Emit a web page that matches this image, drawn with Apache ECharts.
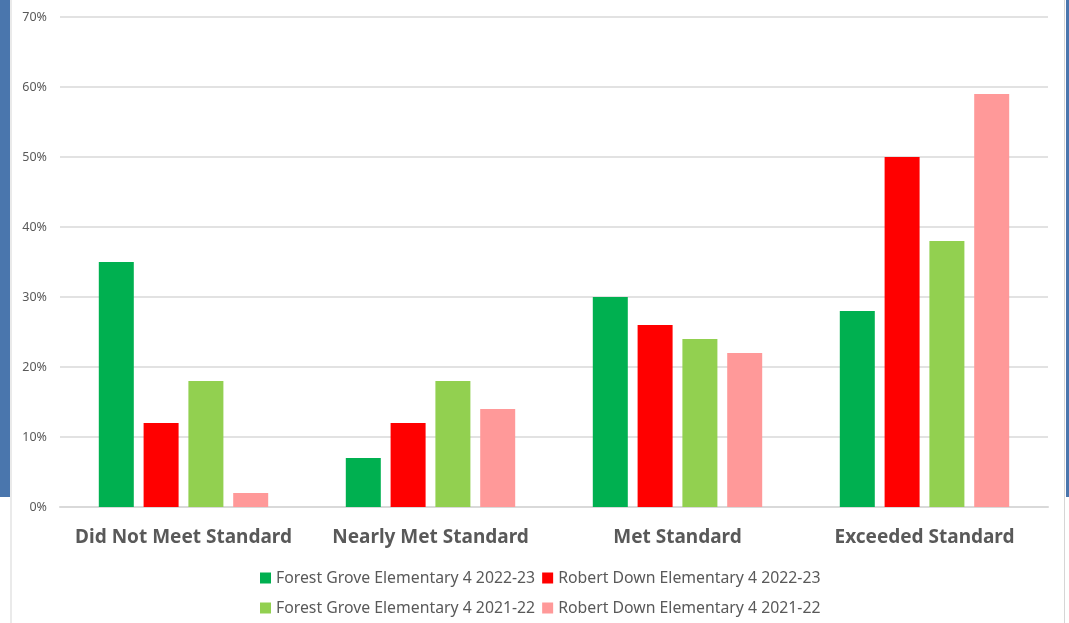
<!DOCTYPE html>
<html><head><meta charset="utf-8">
<script src="https://cdn.jsdelivr.net/npm/echarts@6/dist/echarts.min.js"></script>
<style>html,body{margin:0;padding:0;background:#fff}#c{width:1069px;height:623px}</style>
</head><body><div id="c"></div>
<script>
const categories = ['Did Not Meet Standard', 'Nearly Met Standard', 'Met Standard', 'Exceeded Standard'];
const seriesNames = ['Forest Grove Elementary 4 2022-23', 'Robert Down Elementary 4 2022-23', 'Forest Grove Elementary 4 2021-22', 'Robert Down Elementary 4 2021-22'];
const fg2223 = [35, 7, 30, 28];
const rd2223 = [12, 12, 26, 50];
const fg2122 = [18, 18, 24, 38];
const rd2122 = [2, 14, 22, 59];
const colors = ['#00b050', '#ff0000', '#92d050', '#ff9999'];
const values = [fg2223, rd2223, fg2122, rd2122];

const chart = echarts.init(document.getElementById('c'), null, {renderer: 'canvas'});
const font = 'Noto Sans';
const legendText = {color: '#595959', fontFamily: font, fontSize: 15.8};
chart.setOption({
  animation: false,
  backgroundColor: '#fff',
  graphic: [
    {type: 'rect', shape: {x: 0, y: 0, width: 10, height: 497}, style: {fill: '#4a76ad'}},
    {type: 'rect', shape: {x: 10.5, y: 0, width: 1, height: 623}, style: {fill: '#d6d6d6'}},
    {type: 'rect', shape: {x: 1066, y: 0, width: 3, height: 497}, style: {fill: '#4a76ad'}},
    {type: 'rect', shape: {x: 1064, y: 0, width: 1, height: 623}, style: {fill: '#d6d6d6'}}
  ],
  grid: {left: 60, right: 21, top: 17, bottom: 116, containLabel: false},
  xAxis: {
    type: 'category', data: categories,
    axisLine: {lineStyle: {color: '#d9d9d9', width: 2}},
    axisTick: {show: false},
    axisLabel: {interval: 0, color: '#595959', fontFamily: font, fontWeight: 'bold', fontSize: 19, margin: 21}
  },
  yAxis: {
    type: 'value', min: 0, max: 70, interval: 10,
    axisLabel: {formatter: '{value}%', color: '#595959', fontFamily: font, fontSize: 12.5, margin: 13},
    splitLine: {lineStyle: {color: '#d9d9d9', width: 1.5}},
    axisLine: {show: false}, axisTick: {show: false}
  },
  legend: [
    {data: [seriesNames[0], seriesNames[1]], top: 565, left: 255, itemWidth: 11, itemHeight: 11, itemGap: 7, icon: 'rect',
     textStyle: legendText},
    {data: [seriesNames[2], seriesNames[3]], top: 595, left: 255, itemWidth: 11, itemHeight: 11, itemGap: 7, icon: 'rect',
     textStyle: legendText}
  ],
  series: seriesNames.map((n, i) => ({
    name: n, type: 'bar', data: values[i], itemStyle: {color: colors[i]},
    barWidth: 35, barGap: '28%', barCategoryGap: '31%'
  }))
});
</script></body></html>
